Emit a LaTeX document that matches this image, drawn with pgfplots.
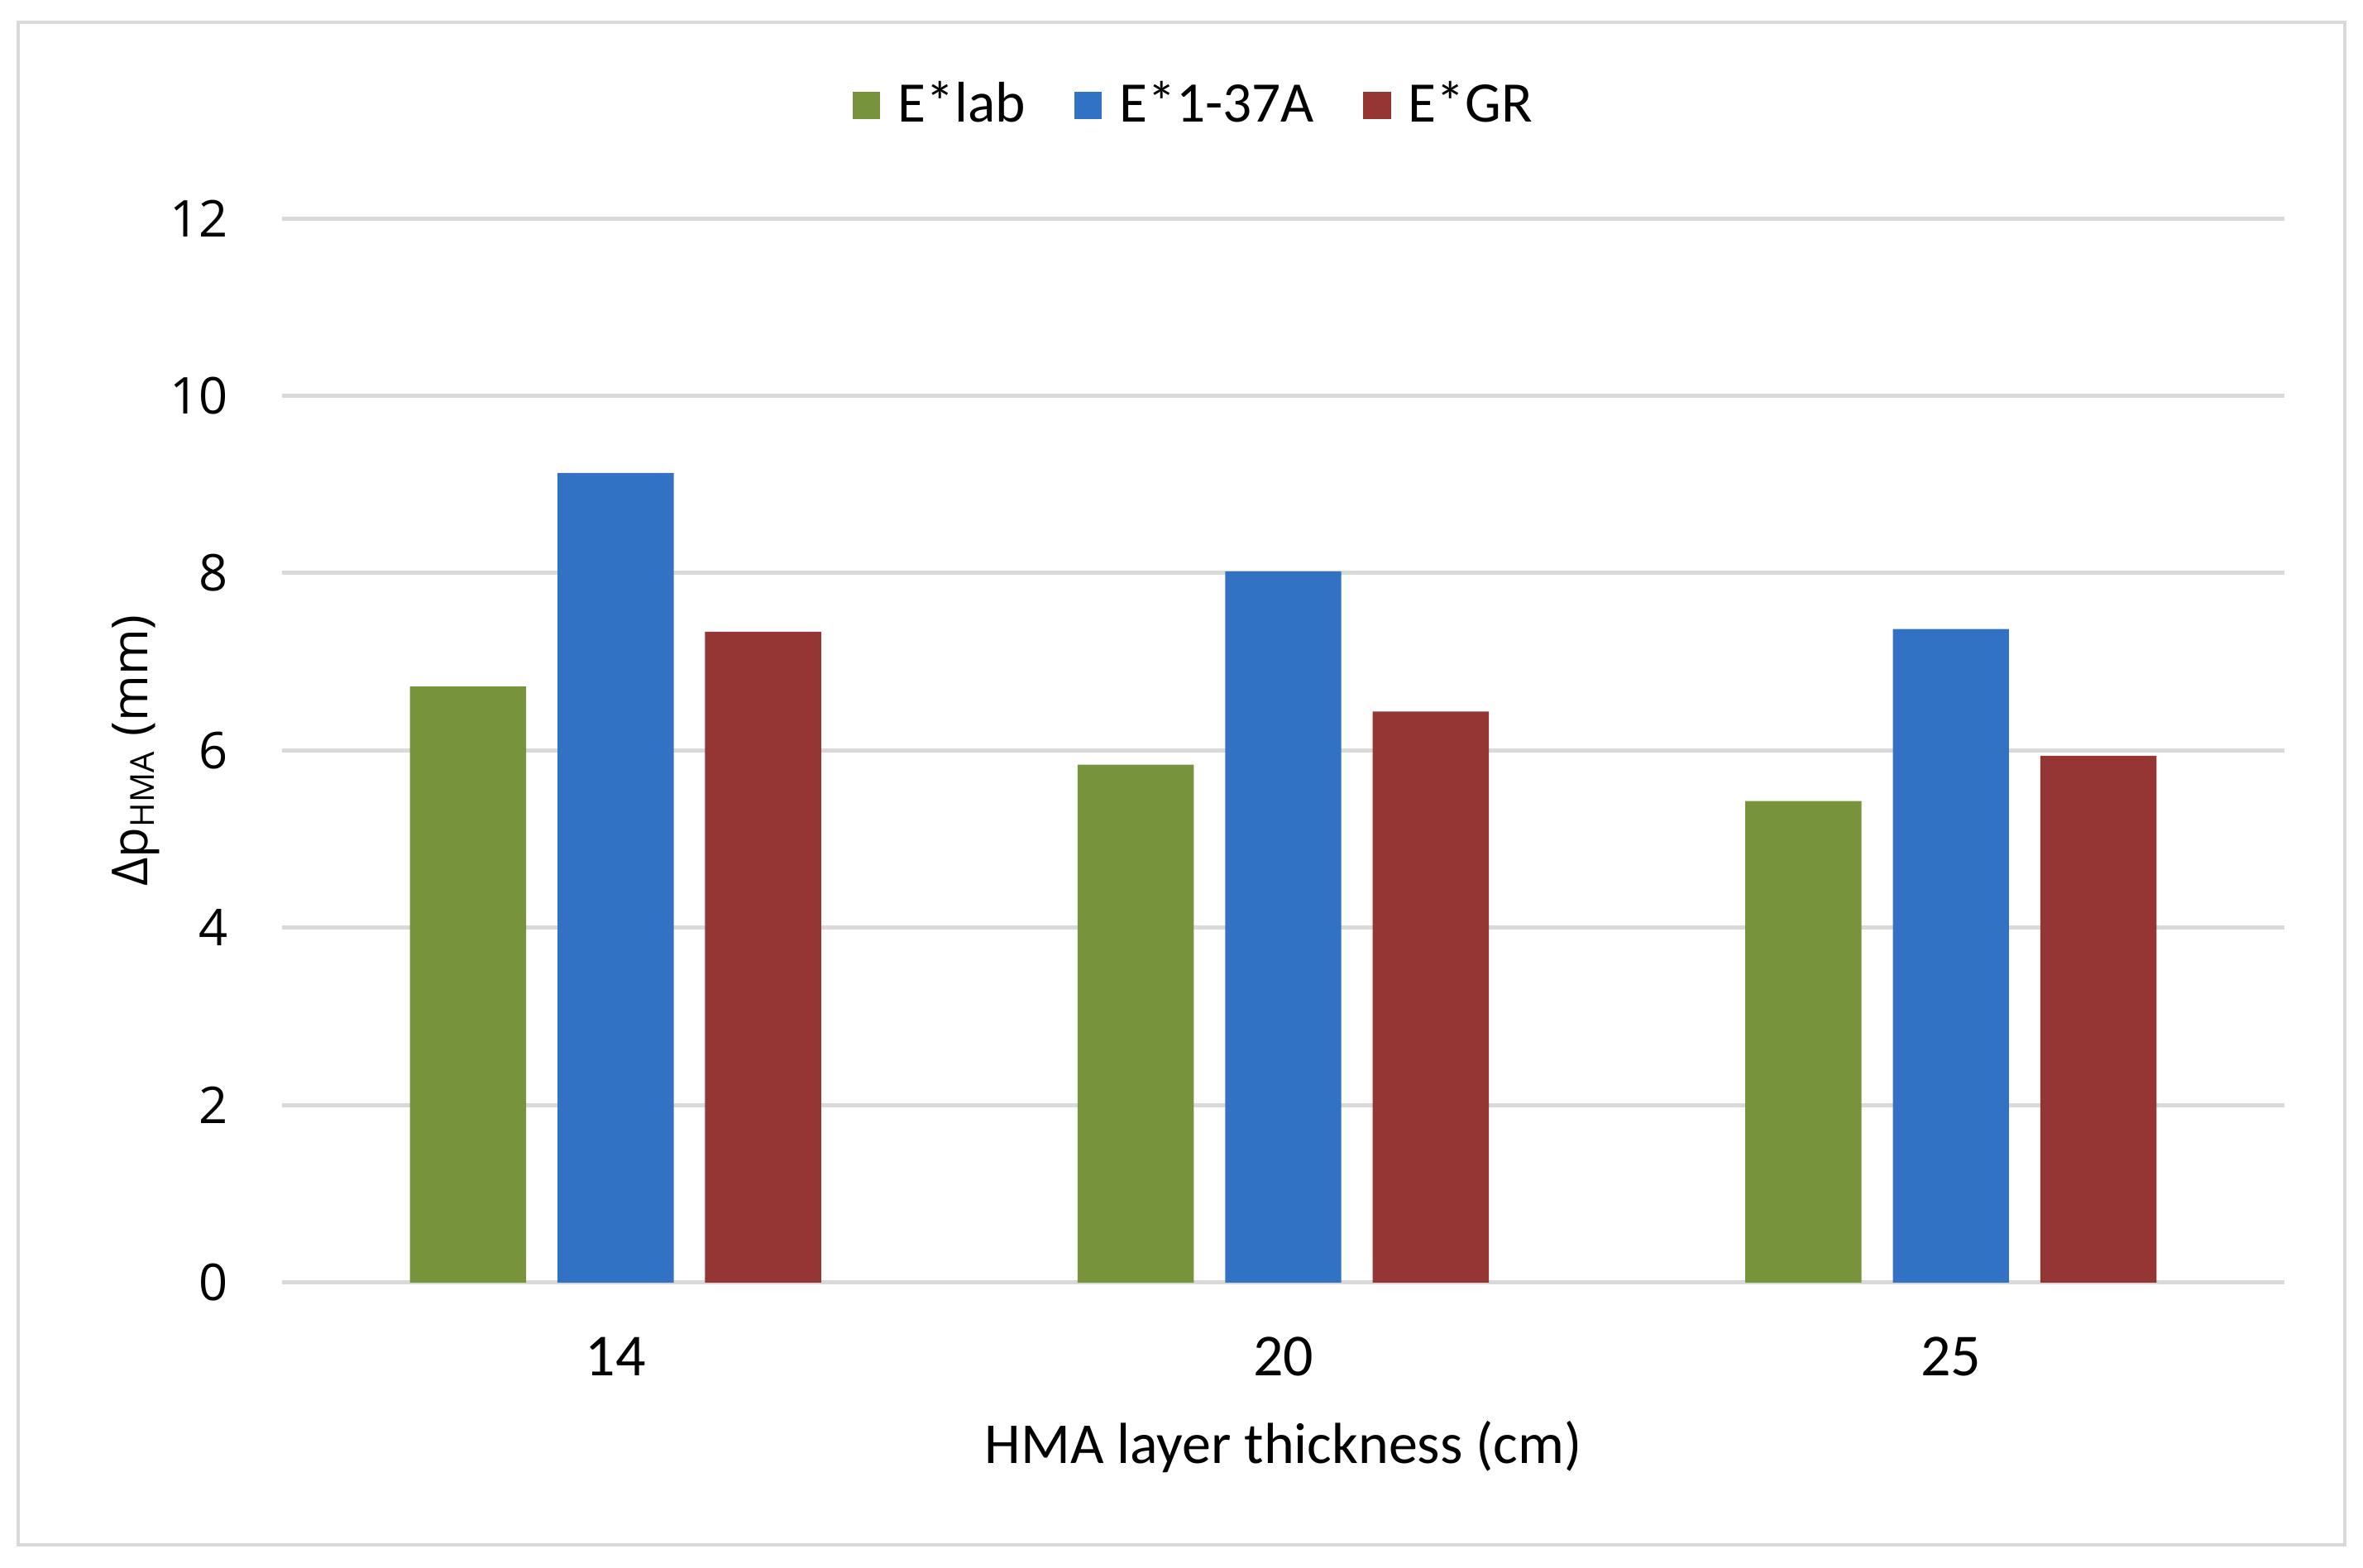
\documentclass[border=0pt]{standalone}
\usepackage{fontspec}
\setmainfont{Carlito}
\newfontfamily\yfont{Open Sans}
\usepackage{pgfplots}
\pgfplotsset{compat=1.18}
\definecolor{cgreen}{RGB}{119,147,60}
\definecolor{cblue}{RGB}{49,114,196}
\definecolor{cred}{RGB}{150,54,52}
\definecolor{cgrid}{RGB}{217,217,217}
\begin{document}
\begin{tikzpicture}
\useasboundingbox (-51.1pt,-51.7pt) rectangle (377.4pt,232.6pt);
\fill[white] (-51.1pt,-51.7pt) rectangle (377.4pt,232.6pt);
\draw[cgrid, line width=0.6pt] (-47.8pt,-47.6pt) rectangle (374.1pt,228.5pt);
\begin{axis}[
  at={(0,0)}, anchor=south west,
  scale only axis, width=363.2pt, height=193pt,
  xmin=-0.5, xmax=2.5, ymin=0, ymax=12,
  xtick={0,1,2}, xticklabels={14,20,25},
  ytick={0,2,4,6,8,10,12},
  /pgf/number format/assume math mode=true,
  major tick length=0pt,
  axis line style={draw=none},
  ymajorgrids, grid style={cgrid, line width=0.75pt},
  xticklabel style={font=\fontsize{10.8}{13}\selectfont, inner sep=0pt, anchor=base, yshift=-16.9pt},
  yticklabel style={font=\yfont\fontsize{9.2}{11}\selectfont, inner sep=0pt, anchor=east, xshift=-9.6pt},
  xlabel={HMA layer thickness (cm)},
  every axis x label/.style={at={(axis description cs:0.5,0)}, anchor=base, yshift=-32.8pt, font=\fontsize{10.5}{13}\selectfont},
  ylabel={{\yfont Δp\textsubscript{HMA} (mm)}},
  every axis y label/.style={at={(axis description cs:-0.0669,0.5)}, rotate=90, anchor=base, font=\yfont\fontsize{9}{11}\selectfont},
  legend style={at={(axis description cs:0.4575,1.106)}, anchor=center, draw=none, fill=none,
    font=\fontsize{10.4}{13}\selectfont, inner sep=0pt,
    /tikz/every even column/.append style={column sep=6.9pt},
    /tikz/every odd column/.append style={column sep=1.2pt}},
  legend columns=3,
  legend image code/.code={\fill[#1] (0pt,-2.5pt) rectangle (5pt,2.5pt);},
  bar width=0.174,
]
\addplot[ybar, fill=cgreen, draw=none, bar shift=-0.221] coordinates {(0,6.72) (1,5.84) (2,5.43)};
\addlegendentry{E*lab}
\addplot[ybar, fill=cblue, draw=none, bar shift=0] coordinates {(0,9.13) (1,8.02) (2,7.37)};
\addlegendentry{E*1-37A}
\addplot[ybar, fill=cred, draw=none, bar shift=0.221] coordinates {(0,7.34) (1,6.44) (2,5.94)};
\addlegendentry{E*GR}
\end{axis}
\end{tikzpicture}
\end{document}
